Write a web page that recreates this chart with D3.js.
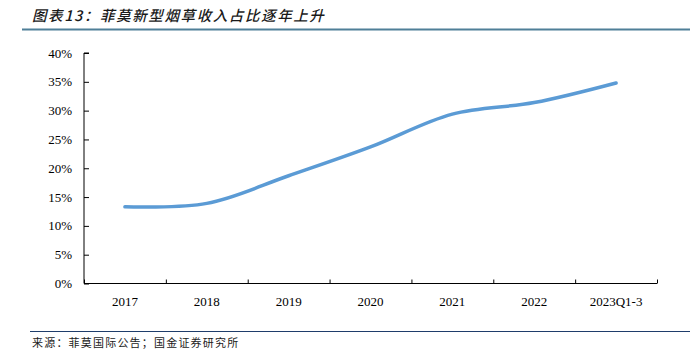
<!DOCTYPE html>
<html>
<head>
<meta charset="utf-8">
<script src="https://cdn.jsdelivr.net/npm/d3@7"></script>
<style>
  body { margin: 0; background: #fff; }
  svg { display: block; }
  .tick-label { font-family: "Liberation Serif", "Times New Roman", serif; font-size: 13px; fill: #000; }
</style>
</head>
<body>
<div id="chart"></div>
<script>
// data
const categories = ["2017", "2018", "2019", "2020", "2021", "2022", "2023Q1-3"];
const shareValues = [13.3, 13.9, 18.7, 23.7, 29.4, 31.4, 34.8];
const yTicks = [0, 5, 10, 15, 20, 25, 30, 35, 40];

const width = 690, height = 351;
const margin = { top: 53, right: 33, bottom: 68, left: 84 };
const innerW = width - margin.left - margin.right;
const innerH = 283.5 - margin.top;

const svg = d3.select("#chart").append("svg")
  .attr("width", width)
  .attr("height", height);

// title + rule
svg.append("text")
  .attr("x", 32)
  .attr("y", 21)
  .attr("font-family", "'Noto Sans CJK SC', sans-serif")
  .attr("font-size", 14.5)
  .attr("font-weight", 500)
  .attr("font-style", "italic")
  .attr("letter-spacing", 1.6)
  .attr("fill", "#1a1a1a")
  .text("图表13：菲莫新型烟草收入占比逐年上升");

svg.append("line")
  .attr("x1", 22).attr("x2", width)
  .attr("y1", 29.5).attr("y2", 29.5)
  .attr("stroke", "#4f7f98")
  .attr("stroke-width", 2);

const chart = svg.append("g")
  .attr("transform", `translate(${margin.left},${margin.top})`);

const x = d3.scaleBand().domain(categories).range([0, innerW]);
const y = d3.scaleLinear().domain([0, 40]).range([innerH, 0]);

// y axis (ticks inside)
const yAxis = chart.append("g")
  .call(d3.axisRight(y).tickValues(yTicks).tickSize(5).tickFormat(""));
yAxis.select(".domain").attr("stroke", "#000").attr("d", `M5,0H0V${innerH}H5`);
yAxis.selectAll(".tick line").attr("stroke", "#000");

chart.selectAll(".y-label")
  .data(yTicks)
  .join("text")
  .attr("class", "tick-label y-label")
  .attr("x", -12)
  .attr("y", d => y(d))
  .attr("dy", "0.35em")
  .attr("text-anchor", "end")
  .text(d => d + "%");

// x axis (ticks at category boundaries, pointing up)
const xBounds = d3.scaleLinear().domain([0, categories.length]).range([0, innerW]);
const xAxis = chart.append("g")
  .attr("transform", `translate(0,${innerH})`)
  .call(d3.axisTop(xBounds).ticks(categories.length).tickSize(4).tickFormat(""));
xAxis.select(".domain").attr("stroke", "#000").attr("d", `M0,0H${innerW}`);
xAxis.selectAll(".tick line").attr("stroke", "#000");

chart.selectAll(".x-label")
  .data(categories)
  .join("text")
  .attr("class", "tick-label x-label")
  .attr("x", d => x(d) + x.bandwidth() / 2)
  .attr("y", innerH + 22)
  .attr("text-anchor", "middle")
  .text(d => d);

// the smoothed line
const line = d3.line()
  .x((d, i) => x(categories[i]) + x.bandwidth() / 2)
  .y(d => y(d))
  .curve(d3.curveCatmullRom.alpha(0.5));

chart.append("path")
  .datum(shareValues)
  .attr("fill", "none")
  .attr("stroke", "#5b9bd5")
  .attr("stroke-width", 3.5)
  .attr("stroke-linecap", "round")
  .attr("d", line);

// source
svg.append("line")
  .attr("x1", 30).attr("x2", width)
  .attr("y1", 331.5).attr("y2", 331.5)
  .attr("stroke", "#1f3d6b")
  .attr("stroke-width", 1);

svg.append("text")
  .attr("x", 32)
  .attr("y", 347)
  .attr("font-family", "'Noto Sans CJK SC', sans-serif")
  .attr("font-size", 11)
  .attr("letter-spacing", 1.2)
  .attr("fill", "#1a1a1a")
  .text("来源：菲莫国际公告；国金证券研究所");
</script>
</body>
</html>
